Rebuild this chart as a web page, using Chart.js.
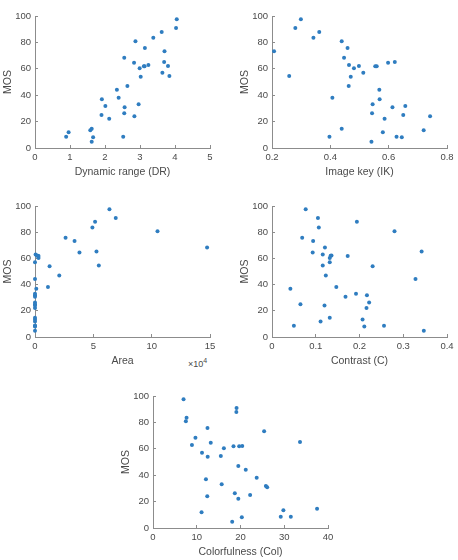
<!DOCTYPE html>
<html>
<head>
<meta charset="utf-8">
<script src="https://cdn.jsdelivr.net/npm/chart.js@4.4.1/dist/chart.umd.min.js"></script>
<style>
  body { margin: 0; background: #fff; width: 458px; height: 560px; overflow: hidden; position: relative; font-family: "Liberation Sans", Arial, sans-serif; }
  canvas { position: absolute; }
  .exp { position: absolute; left: 188px; top: 356px; font-size: 9px; color: #4a4a4a; line-height: 10px; }
  .exp sup { font-size: 7px; vertical-align: 4px; }
</style>
</head>
<body>
<span class="exp">×10<sup>4</sup></span>
<script>
// MOS shared by all five panels, one entry per image
const mos = [97.5, 90.9, 87.9, 83.6, 80.8, 75.8, 73.3, 68.3, 65.2, 64.5, 62.9, 62.2, 62.0, 61.9, 60.4, 57.1, 54.5, 54.0,
  47.0, 44.2, 38.1, 36.9, 33.1, 31.8, 30.8, 26.3, 25.0, 24.0, 22.2, 14.6, 13.4, 11.9, 8.6, 8.6, 8.1, 4.8];

const dynamicRange = [4.05, 4.03, 3.62, 3.38, 2.87, 3.14, 3.70, 2.55, 3.69, 2.83, 3.24, 3.80, 3.11, 3.13, 2.99, 3.64, 3.84, 3.02,
  2.64, 2.34, 2.39, 1.91, 2.96, 2.01, 2.56, 2.55, 1.90, 2.84, 2.12, 1.62, 1.58, 0.96, 0.89, 2.52, 1.66, 1.62];

const imageKey = [0.299, 0.280, 0.362, 0.342, 0.439, 0.459, 0.207, 0.447, 0.621, 0.598, 0.464, 0.498, 0.559, 0.554, 0.481, 0.513, 0.259, 0.470,
  0.463, 0.568, 0.407, 0.569, 0.545, 0.657, 0.613, 0.543, 0.650, 0.742, 0.586, 0.439, 0.720, 0.580, 0.397, 0.627, 0.645, 0.541];

const area = [63800, 69200, 51500, 49200, 105000, 26200, 33900, 147500, 52700, 38100, 500, 1500, 2500, 3000, 3000, 0, 54700, 12500,
  20800, 0, 11100, 1100, 0, 0, 0, 0, 0, 0, 0, 0, 0, 0, 0, 0, 0, 0];

const contrast = [0.077, 0.105, 0.194, 0.107, 0.280, 0.069, 0.094, 0.121, 0.342, 0.093, 0.116, 0.136, 0.134, 0.173, 0.132, 0.132, 0.116, 0.230,
  0.123, 0.328, 0.147, 0.042, 0.192, 0.217, 0.168, 0.222, 0.065, 0.120, 0.216, 0.132, 0.207, 0.111, 0.050, 0.256, 0.211, 0.347];

const colorfulness = [6.98, 19.1, 19.05, 7.67, 7.51, 12.45, 25.4, 9.7, 33.6, 13.2, 8.9, 20.4, 19.7, 18.4, 16.2, 11.2, 15.5, 12.5,
  19.5, 21.2, 23.7, 12.1, 15.7, 25.8, 26.1, 18.7, 22.2, 12.4, 19.5, 37.5, 29.8, 11.1, 29.2, 31.5, 20.3, 18.1];

const axisColor = '#8c8c8c';
const textColor = '#4a4a4a';
const pointColor = '#2f7dc0';

const panels = [
  { xs: dynamicRange, title: 'Dynamic range (DR)', min: 0, max: 5, step: 1, left: 35, top: 16, h: 132 },
  { xs: imageKey, title: 'Image key (IK)', min: 0.2, max: 0.8, step: 0.2, left: 272, top: 16, h: 132 },
  { xs: area, title: 'Area', min: 0, max: 150000, step: 50000, left: 35, top: 206, h: 131, scale: 1e4 },
  { xs: contrast, title: 'Contrast (C)', min: 0, max: 0.4, step: 0.1, left: 272, top: 206, h: 131 },
  { xs: colorfulness, title: 'Colorfulness (Col)', min: 0, max: 40, step: 10, left: 153, top: 396, h: 132 }
];

function makePanel(p) {
  const padTop = 8, padRight = 10, yBox = 35, xBox = 32, plotW = 175;
  const canvas = document.createElement('canvas');
  canvas.width = yBox + plotW + padRight;
  canvas.height = padTop + p.h + xBox;
  canvas.style.left = (p.left - yBox) + 'px';
  canvas.style.top = (p.top - padTop) + 'px';
  document.body.appendChild(canvas);

  const grid = { drawOnChartArea: false, drawTicks: true, tickLength: -3, color: axisColor, lineWidth: 1 };
  const div = p.scale || 1;

  new Chart(canvas, {
    type: 'scatter',
    data: {
      datasets: [{
        data: p.xs.map((x, i) => ({ x, y: mos[i] })),
        backgroundColor: pointColor,
        borderWidth: 0,
        pointRadius: 2,
        clip: false
      }]
    },
    options: {
      responsive: false,
      animation: false,
      events: [],
      layout: { padding: { left: 0, top: padTop, right: padRight, bottom: 0 } },
      plugins: { legend: { display: false }, tooltip: { enabled: false } },
      scales: {
        x: {
          min: p.min, max: p.max,
          grid: grid,
          border: { color: axisColor, width: 1 },
          ticks: {
            stepSize: p.step, color: textColor, padding: 6.3, maxRotation: 0, minRotation: 0,
            font: { family: 'Liberation Sans', size: 9.5 },
            callback: v => String(Math.round(v / div * 100) / 100)
          },
          title: {
            display: true, text: p.title, color: textColor,
            font: { family: 'Liberation Sans', size: 10.5 },
            padding: { top: 0, bottom: 1.7 }
          },
          afterFit(scale) {
            scale.height = xBox;
            scale.paddingLeft = 0;
            scale.paddingRight = 0;
          }
        },
        y: {
          min: 0, max: 100,
          grid: grid,
          border: { color: axisColor, width: 1 },
          ticks: {
            stepSize: 20, color: textColor, padding: 7,
            font: { family: 'Liberation Sans', size: 9.5 }
          },
          title: {
            display: true, text: 'MOS', color: textColor,
            font: { family: 'Liberation Sans', size: 10.5 },
            padding: { top: 2, bottom: 0 }
          },
          afterFit(scale) {
            scale.width = yBox;
            scale.paddingTop = 0;
            scale.paddingBottom = 0;
          }
        }
      }
    }
  });
}

panels.forEach(makePanel);
</script>
</body>
</html>
